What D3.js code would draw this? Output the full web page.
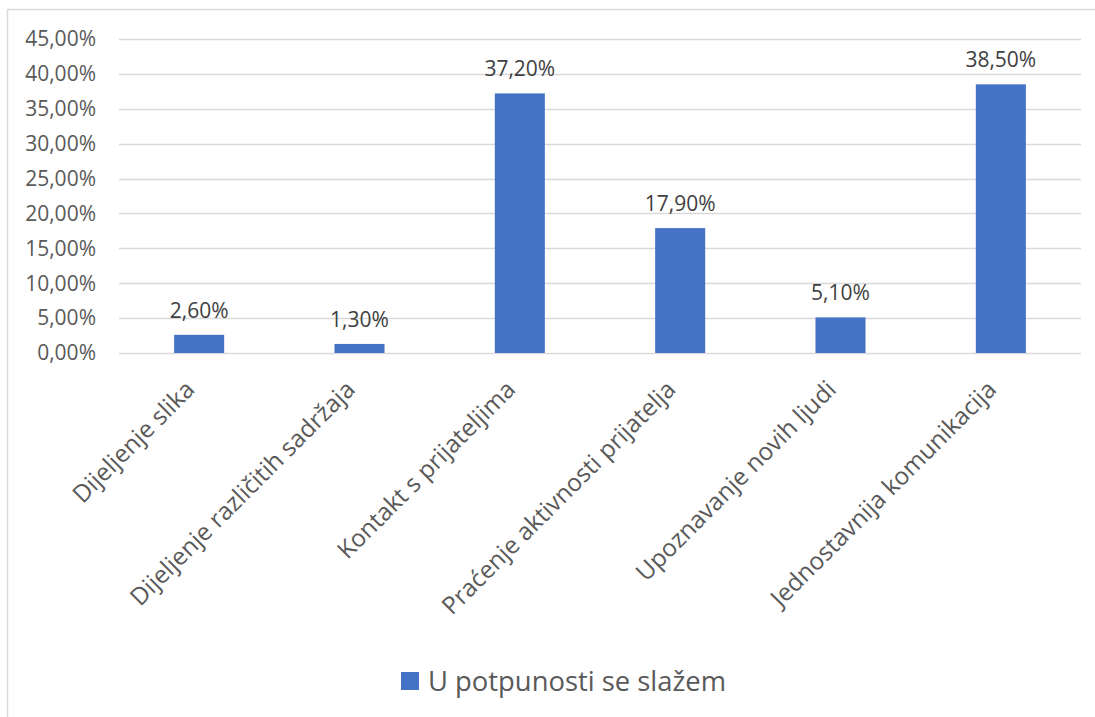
<!DOCTYPE html>
<meta charset="utf-8">
<script src="https://d3js.org/d3.v7.min.js"></script>
<style>
body { margin: 0; background: #fff; }
text { font-family: "Open Sans", sans-serif; fill: #595959; }
</style>
<svg id="chart" width="1095" height="717"></svg>
<script>
// chart data
const categories = ["Dijeljenje slika", "Dijeljenje različitih sadržaja", "Kontakt s prijateljima",
  "Praćenje aktivnosti prijatelja", "Upoznavanje novih ljudi", "Jednostavnija komunikacija"]
const values = [0.026, 0.013, 0.372, 0.179, 0.051, 0.385]
const yTicks = [0, 0.05, 0.10, 0.15, 0.20, 0.25, 0.30, 0.35, 0.40, 0.45]
const seriesName = "U potpunosti se slažem"

const svg = d3.select("#chart")
const margin = {left: 119, right: 14, top: 39, bottom: 364}
const width = +svg.attr("width"), height = +svg.attr("height")

// percent with comma as decimal separator
const fmt = v => (v * 100).toFixed(2).replace(".", ",") + "%"

// outer chart border
svg.append("rect")
  .attr("x", 7.5).attr("y", 9.5)
  .attr("width", width + 10).attr("height", height + 10)
  .attr("fill", "none").attr("stroke", "#d9d9d9").attr("stroke-width", 1.5)

const x = d3.scaleBand()
  .domain(categories)
  .range([margin.left, width - margin.right])
  .paddingInner(0.688)
  .paddingOuter(0.344)

const y = d3.scaleLinear()
  .domain([0, 0.45])
  .range([height - margin.bottom, margin.top])

// gridlines
svg.append("g")
  .selectAll("line")
  .data(yTicks)
  .join("line")
    .attr("x1", margin.left).attr("x2", width - margin.right)
    .attr("y1", d => Math.round(y(d)) + 0.5).attr("y2", d => Math.round(y(d)) + 0.5)
    .attr("stroke", "#d9d9d9").attr("stroke-width", 1.3)

// y tick labels
svg.append("g")
  .selectAll("text")
  .data(yTicks)
  .join("text")
    .attr("x", 96)
    .attr("y", d => y(d))
    .attr("dy", "0.35em")
    .attr("text-anchor", "end")
    .style("font-size", "21px")
    .text(fmt)

// bars
svg.append("g")
  .selectAll("rect")
  .data(values)
  .join("rect")
    .attr("x", (d, i) => x(categories[i]))
    .attr("width", x.bandwidth())
    .attr("y", d => y(d))
    .attr("height", d => y(0) - y(d))
    .attr("fill", "#4472c4")

// data labels
svg.append("g")
  .selectAll("text")
  .data(values)
  .join("text")
    .attr("x", (d, i) => x(categories[i]) + x.bandwidth() / 2)
    .attr("y", d => y(d) - 17)
    .attr("text-anchor", "middle")
    .style("font-size", "21px")
    .style("fill", "#404040")
    .text(fmt)

// rotated category labels
svg.append("g")
  .selectAll("text")
  .data(categories)
  .join("text")
    .attr("transform", d => `translate(${x(d) + x.bandwidth() / 2 - 3},${y(0) + 38}) rotate(-45)`)
    .attr("text-anchor", "end")
    .style("font-size", "24.3px")
    .text(d => d)

// legend
const legend = svg.append("g").attr("transform", "translate(401,672)")
legend.append("rect")
  .attr("width", 18).attr("height", 18)
  .attr("fill", "#4472c4")
legend.append("text")
  .attr("x", 27).attr("y", 19)
  .style("font-size", "27.4px")
  .text(seriesName)
</script>
